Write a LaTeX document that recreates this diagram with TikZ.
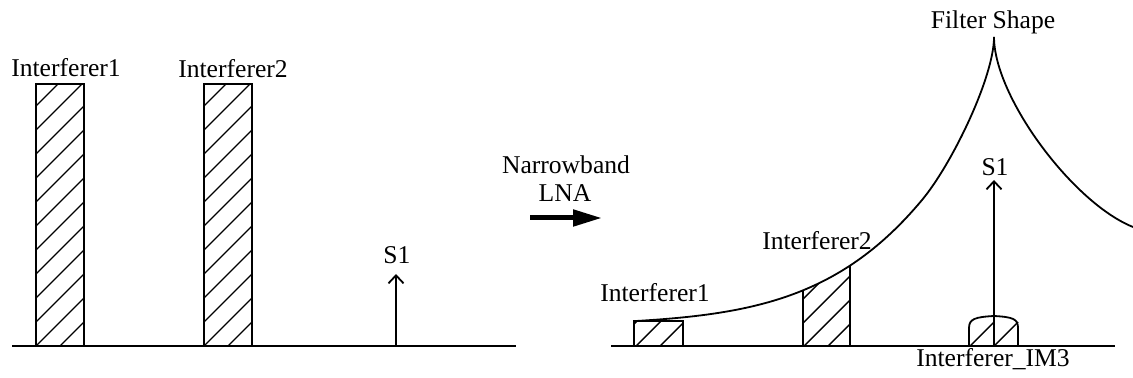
\documentclass[tikz,border=0pt]{standalone}
\usepackage{fontspec}
\setmainfont{Liberation Serif}
\usetikzlibrary{arrows.meta}
\newcommand\hatchbox[4]{%
  \begin{scope}
    \clip (#1,#2) rectangle (#3,#4);
    \foreach \c in {22,46,...,1486} {\draw[hatchln] (\c-400,400) -- (\c,0);}
  \end{scope}}
\begin{document}
\begin{tikzpicture}[x=0.5pt,y=-0.5pt,
  lbl/.style={inner sep=0pt, anchor=base, font=\fontsize{12.8}{15}\selectfont},
  ln/.style={line width=0.9pt},
  hatchln/.style={line width=0.7pt},
  sig/.style={line width=0.9pt, -{Straight Barb[length=4pt,width=7.5pt]}},
  bigarrow/.style={line width=2.5pt, -{Triangle[length=14.5pt,width=8pt]}}]
\useasboundingbox (0,0) rectangle (1133,378);

% ---------- left spectrum ----------
\draw[ln] (12,346) -- (516,346);
\hatchbox{36}{84}{84}{346}
\hatchbox{204}{84}{252}{346}
\draw[ln] (36,346) rectangle (84,84);
\draw[ln] (204,346) rectangle (252,84);
\node[lbl] (i1L) at (66,77) {Interferer1};
\node[lbl] (i2L) at (233,78) {Interferer2};
\coordinate (s1Lb) at (396,346);
\coordinate (s1Lt) at (396,274);
\draw[sig] (s1Lb) -- (s1Lt);
\node[lbl] (s1L) at (397,264) {S1};

% ---------- LNA arrow ----------
\node[lbl] (nb) at (566,174) {Narrowband};
\node[lbl] (lna) at (565,202) {LNA};
\coordinate (aS) at (530,218);
\coordinate (aE) at (602,218);
\draw[bigarrow] (aS) -- (aE);

% ---------- right spectrum ----------
\draw[ln] (611,346) -- (1115,346);
% Interferer1 (right)
\hatchbox{634}{321}{683}{346}
\draw[ln] (634,346) rectangle (683,321);
% Interferer2 (right), bounded by the filter curve
\begin{scope}
  \clip (636,321) .. controls (756,314) and (842,296) .. (922,200)
        .. controls (952,164) and (994,77) .. (994,37)
        -- (994,400) -- (636,400) -- cycle;
  \hatchbox{803}{250}{850}{346}
  \draw[ln] (803,346) -- (803,270);
  \draw[ln] (850,346) -- (850,250);
\end{scope}
% filter shape
\draw[ln] (636,321) .. controls (756,314) and (842,296) .. (922,200)
          .. controls (952,164) and (994,77) .. (994,37);
\draw[ln] (994,37) .. controls (994,97) and (1073,203) .. (1133,227);
% IM3
\draw[ln] (969,346) -- (969,328) .. controls (969,319) and (975,317) .. (994,316)
          .. controls (1013,317) and (1018,319) .. (1018,328) -- (1018,346);
\draw[hatchln] (970,346) -- (994,322);
\draw[hatchln] (994,346) -- (1018,322);
\coordinate (s1Rb) at (994,346);
\coordinate (s1Rt) at (994,180);
\draw[sig] (s1Rb) -- (s1Rt);

\node[lbl] (fs) at (993,29) {Filter Shape};
\node[lbl] (s1R) at (995,176) {S1};
\node[lbl] (i2R) at (817,250) {Interferer2};
\node[lbl] (i1R) at (655,302) {Interferer1};
\node[lbl] (im3) at (993,367) {Interferer\_IM3};
\end{tikzpicture}
\end{document}
